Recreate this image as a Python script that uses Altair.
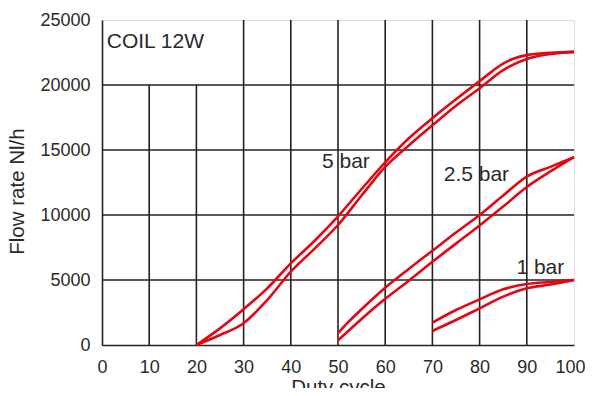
import altair as alt
import pandas as pd

# ---- data ----
x5_up = [20, 25, 30, 35, 40, 45, 50, 55, 60, 65, 70, 75, 80, 85, 87, 90, 95, 100]
y5_up = [0, 1280, 2750, 4360, 6280, 8000, 9900, 12000, 14050, 15900, 17450, 18900, 20300, 21650, 22000, 22300, 22480, 22550]
x5_lo = [20, 25, 30, 35, 40, 45, 50, 55, 60, 65, 70, 75, 80, 85, 90, 95, 100]
y5_lo = [0, 770, 1670, 3460, 5640, 7400, 9230, 11500, 13700, 15350, 16900, 18400, 19750, 21150, 22000, 22380, 22550]

x25_up = [50, 52, 55, 60, 65, 70, 75, 80, 85, 90, 95, 100]
y25_up = [900, 1700, 2750, 4400, 5850, 7250, 8650, 10000, 11500, 12950, 13700, 14450]
x25_lo = [50, 55, 60, 65, 70, 75, 80, 85, 90, 95, 100]
y25_lo = [350, 2000, 3550, 4950, 6400, 7800, 9200, 10650, 12150, 13350, 14450]

x1_up = [70, 75, 80, 85, 90, 95, 100]
y1_up = [1720, 2690, 3510, 4280, 4690, 4850, 5000]
x1_lo = [70, 75, 80, 85, 90, 95, 100]
y1_lo = [1080, 1920, 2820, 3720, 4360, 4650, 5000]

x_ticks = [0, 10, 20, 30, 40, 50, 60, 70, 80, 90, 100]
y_ticks = [0, 5000, 10000, 15000, 20000, 25000]

label_text = ["5 bar", "2.5 bar", "1 bar", "COIL 12W"]
label_x = [46.6, 72.4, 87.8, 1.0]
label_y = [14100, 13050, 5950, 23300]

RED = "#e30613"
GRID = "#222222"
TXT = "#2a2a2a"
FONT = "Liberation Sans"

# ---- tables ----
rows = []
for name, xs, ys in [("5u", x5_up, y5_up), ("5l", x5_lo, y5_lo),
                     ("25u", x25_up, y25_up), ("25l", x25_lo, y25_lo),
                     ("1u", x1_up, y1_up), ("1l", x1_lo, y1_lo)]:
    for i, (a, b) in enumerate(zip(xs, ys)):
        rows.append({"s": name, "o": i, "x": a, "y": b})
curves = pd.DataFrame(rows)

# grid: vertical lines at 10 and 20 stop at 20000 (the COIL box), others full height
vgrid = pd.DataFrame({
    "x": [t for t in x_ticks[1:-1]],
    "y0": [0 for _ in x_ticks[1:-1]],
    "y1": [y_ticks[-2] if t < 30 else y_ticks[-1] for t in x_ticks[1:-1]],
})
hgrid = pd.DataFrame({"y": y_ticks[1:-1], "x0": [0] * 4, "x1": [100] * 4})
labels = pd.DataFrame({"t": label_text, "x": label_x, "y": label_y})

xs = alt.Scale(domain=[0, 100], nice=False, zero=False)
ys = alt.Scale(domain=[0, 25000], nice=False)

base_x_axis = alt.Axis(values=x_ticks, grid=False, ticks=False, labelFontSize=18,
                       labelFont=FONT, labelColor=TXT, labelPadding=13, labelFlush=False,
                       labelOffset=alt.condition("datum.value == 100", alt.value(-4), alt.value(0)),
                       domainColor=GRID, domainWidth=1.6, title="Duty cycle",
                       titleFont=FONT, titleFontSize=20.5, titleFontWeight="normal",
                       titleColor=TXT, titleBaseline="alphabetic", titleY=48)
base_y_axis = alt.Axis(values=y_ticks, grid=False, ticks=False, labelFontSize=18,
                       labelFont=FONT, labelColor=TXT, labelPadding=12, labelFlush=False,
                       format="d",
                       domainColor=GRID, domainWidth=1.6, title="Flow rate Nl/h",
                       titleFont=FONT, titleFontSize=20.5, titleFontWeight="normal",
                       titleColor=TXT, titleBaseline="middle", titleX=-84.5, titleY=171)

vrules = alt.Chart(vgrid).mark_rule(color=GRID, strokeWidth=1.6).encode(
    x=alt.X("x:Q", scale=xs, axis=base_x_axis),
    y=alt.Y("y0:Q", scale=ys, axis=base_y_axis),
    y2="y1:Q",
)
hrules = alt.Chart(hgrid).mark_rule(color=GRID, strokeWidth=1.6).encode(
    x=alt.X("x0:Q", scale=xs), x2="x1:Q", y=alt.Y("y:Q", scale=ys)
)
lines = alt.Chart(curves).mark_line(color=RED, strokeWidth=2.6, interpolate="monotone").encode(
    x=alt.X("x:Q", scale=xs),
    y=alt.Y("y:Q", scale=ys),
    detail="s:N",
    order="o:Q",
)
text = alt.Chart(labels).mark_text(align="left", baseline="middle", fontSize=21,
                                   font=FONT, color=TXT).encode(
    x=alt.X("x:Q", scale=xs), y=alt.Y("y:Q", scale=ys), text="t:N"
)

chart = alt.layer(vrules, hrules, lines, text).properties(
    width=472, height=325,
    autosize=alt.AutoSizeParams(type="none"),
    padding={"left": 94, "top": 12, "right": 11, "bottom": 43},
).configure_view(stroke=GRID, strokeWidth=1.6).configure(background="white")

chart.save("out.html", embed_options={"renderer": "svg", "actions": False})
